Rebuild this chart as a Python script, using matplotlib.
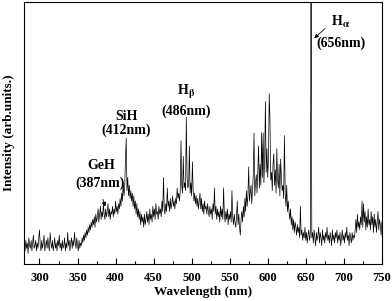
import numpy as np
import matplotlib
matplotlib.use('Agg')
import matplotlib.pyplot as plt

plt.rcParams['font.family'] = ['Liberation Serif', 'DejaVu Serif']
plt.rcParams['font.weight'] = 'bold'
plt.rcParams['mathtext.fontset'] = 'stix'

# wavelength grid (nm), one sample per nm
wavelength = np.arange(280, 751)

# emission intensity (arb. units), 10 nm per row
uv_part = [7, 5, 9, 6, 8, 4, 10, 7, 6, 9,
           5, 8, 11, 6, 7, 9, 5, 8, 6, 10,
           13, 7, 5, 9, 6, 8, 11, 5, 7, 9,
           6, 10, 7, 5, 12, 8, 6, 9, 5, 7,
           10, 6, 8, 5, 9, 7, 11, 6, 8, 5,
           9, 6, 7, 10, 5, 8, 6, 12, 7, 9,
           5, 8, 10, 6, 9, 7, 12, 8, 6, 10,
           7, 5, 9, 6, 8, 7, 10, 8, 11, 9]
geh_sih_part = [12, 10, 13, 11, 14, 12, 15, 13, 16, 14,
                17, 15, 18, 14, 19, 16, 18, 21, 16, 19,
                22, 17, 20, 18, 23, 19, 17, 21, 18, 20,
                23, 18, 21, 17, 20, 19, 22, 18, 21, 19,
                24, 20, 22, 19, 23, 21, 25, 22, 27, 24,
                31, 26, 29, 40, 48, 28, 33, 26, 30, 25,
                28, 24, 27, 22, 26, 21, 24, 19, 23, 18,
                21, 17, 20, 15, 19, 16, 18, 14, 19, 15]
hbeta_part = [17, 20, 16, 19, 15, 21, 17, 19, 16, 22,
              18, 21, 17, 23, 19, 20, 17, 22, 19, 21,
              18, 24, 20, 33, 21, 19, 23, 20, 29, 22,
              24, 20, 25, 21, 23, 26, 22, 24, 21, 25,
              23, 29, 25, 27, 24, 28, 47, 30, 27, 41,
              29, 31, 28, 56, 33, 29, 30, 45, 27, 31,
              26, 39, 28, 24, 27, 23, 26, 22, 25, 21,
              24, 27, 21, 25, 20, 23, 19, 24, 21, 22,
              19, 23, 20, 18, 22, 19, 21, 17, 23, 20,
              29, 19, 22, 17, 21, 18, 20, 16, 22, 18,
              21, 17, 29, 19, 16, 20, 17, 21, 15, 19,
              17, 20, 16, 28, 18, 15, 19, 16, 14, 18]
band_part = [24, 15, 19, 14, 11, 17, 20, 16, 22, 18,
             25, 20, 28, 22, 26, 37, 24, 27, 30, 23,
             28, 34, 50, 26, 31, 34, 27, 36, 45, 29,
             38, 30, 50, 33, 50, 31, 40, 62, 35, 44,
             33, 40, 65, 55, 32, 35, 28, 38, 42, 30,
             36, 27, 44, 32, 29, 38, 26, 40, 33, 28,
             30, 25, 49, 27, 22, 30, 20, 24, 20, 17,
             21, 15, 18, 13, 17, 12, 16, 14, 11, 15]
halpha_part = [12, 14, 10, 22, 11, 13, 9, 12, 10, 14,
               9, 12, 8, 11, 13, 9, 11, 105, 10, 12,
               8, 13, 10, 7, 12, 9, 11, 14, 8, 12,
               10, 7, 13, 9, 11, 8, 12, 10, 14, 9,
               11, 8, 12, 10, 7, 13, 9, 11, 8, 12,
               10, 13, 8, 11, 9, 12, 7, 10, 13, 9,
               11, 8, 12, 10, 14, 9, 11, 7, 12, 10,
               8, 12, 9, 11, 10, 13, 17, 12, 19, 14,
               16, 13, 18, 15, 24, 14, 23, 16, 20, 13,
               18, 14, 21, 15, 17, 13, 20, 15, 18, 12,
               19, 14, 17, 12, 16, 20, 13, 17, 15, 11,
               16]

intensity = np.array(uv_part + geh_sih_part + hbeta_part + band_part + halpha_part)

fig = plt.figure(figsize=(3.92, 3.01), dpi=100)
ax = fig.add_axes([0.060, 0.123, 0.914, 0.871])

ax.plot(wavelength, intensity, color='black', lw=0.5)

ax.set_xlim(279, 750)
ax.set_ylim(0, 100)
ax.set_xticks(np.arange(300, 751, 50))
ax.set_xticks(np.arange(300, 751, 25), minor=True)
ax.set_yticks([])
ax.tick_params(axis='x', which='major', direction='in', length=4.3, width=0.8,
               labelsize=9, pad=5.5)
ax.tick_params(axis='x', which='minor', direction='in', length=2.2, width=0.8)
for s in ax.spines.values():
    s.set_linewidth(0.8)

ax.set_xlabel('Wavelength (nm)', fontsize=9.5, fontweight='bold', labelpad=1.5)
ax.set_ylabel('Intensity (arb.units.)', fontsize=9.5, fontweight='bold', labelpad=6)

# peak labels
fs = 10
ax.text(381, 37.7, 'GeH', ha='center', va='center', fontsize=fs)
ax.text(380, 30.9, '(387nm)', ha='center', va='center', fontsize=fs)
ax.annotate('', xy=(387.8, 20.9), xytext=(382, 25.7),
            arrowprops=dict(arrowstyle='-|>', color='black', lw=0.6,
                            mutation_scale=6))

ax.text(414, 56.2, 'SiH', ha='center', va='center', fontsize=fs)
ax.text(414, 50.9, '(412nm)', ha='center', va='center', fontsize=fs)

ax.text(493, 65.6, r'H$_{\mathbf{\beta}}$', ha='center', va='center', fontsize=fs)
ax.text(493, 58.3, '(486nm)', ha='center', va='center', fontsize=fs)

ax.text(696, 92.3, r'H$_{\mathbf{\alpha}}$', ha='center', va='center', fontsize=fs)
ax.text(697, 84.3, '(656nm)', ha='center', va='center', fontsize=fs)
ax.annotate('', xy=(658.5, 85.4), xytext=(678, 90.5),
            arrowprops=dict(arrowstyle='-|>', color='black', lw=0.6,
                            mutation_scale=6))

plt.savefig('out.png', dpi=100)
